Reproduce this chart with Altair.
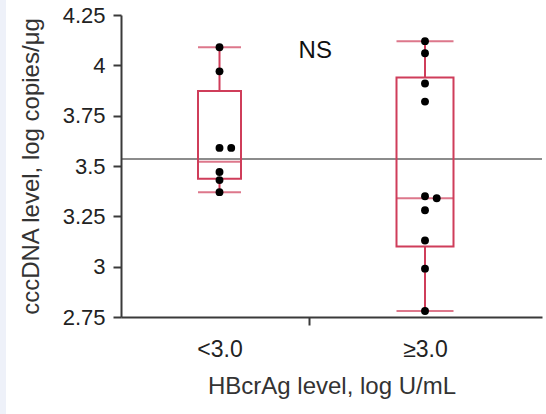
import altair as alt
import pandas as pd

# ---------------- data ----------------
groups = ["<3.0", "≥3.0"]
group_pos = [1, 2]
vals_low = [4.09, 3.97, 3.59, 3.59, 3.47, 3.43, 3.37]
vals_high = [4.12, 4.06, 3.91, 3.82, 3.35, 3.34, 3.28, 3.13, 2.99, 2.78]
box_min = [3.37, 2.78]
box_q1 = [3.437, 3.10]
box_med = [3.521, 3.34]
box_q3 = [3.872, 3.94]
box_max = [4.09, 4.12]
ref_value = 3.535
y_ticks = [2.75, 3, 3.25, 3.5, 3.75, 4, 4.25]
annotation = "NS"
y_title = "cccDNA level, log copies/μg"
x_title = "HBcrAg level, log U/mL"

# ---------------- layout constants ----------------
W, H = 421, 302
Y_DOMAIN = [2.75, 4.25]
X_DOMAIN = [0.545, 2.545]
PX_PER_Y = H / (Y_DOMAIN[1] - Y_DOMAIN[0])
PX_PER_X = W / (X_DOMAIN[1] - X_DOMAIN[0])
BOX_RED = "#cf3d5a"
AXIS = "#3a3a3a"
FONT = "Liberation Sans"

# box table
boxes = pd.DataFrame({
    "group": groups, "pos": group_pos,
    "lo": box_min, "q1": box_q1, "med": box_med, "q3": box_q3, "hi": box_max,
})

# points with a simple beeswarm de-overlap
rows = []
for g, p, vals in zip(groups, group_pos, [vals_low, vals_high]):
    placed = []
    for v in vals:
        k = 0
        while any(pk == k and abs(pv - v) * PX_PER_Y < 6 for pv, pk in placed):
            k += 1
        placed.append((v, k))
        rows.append({"group": g, "x": p + k * 12 / PX_PER_X, "value": v})
points = pd.DataFrame(rows)

xs = alt.Scale(domain=X_DOMAIN, nice=False, zero=False)
ys = alt.Scale(domain=Y_DOMAIN, nice=False, zero=False)

label_expr = " : ".join(
    [f"datum.value == {p} ? '{g}'" for g, p in zip(groups, group_pos)]
) + " : ''"
mid_tick = 1.437

x_axis = alt.Axis(
    values=[group_pos[0], mid_tick, group_pos[1]],
    labelExpr=label_expr,
    tickOpacity={"condition": {"test": f"datum.value == {group_pos[0]} || datum.value == {group_pos[1]}", "value": 0}, "value": 1},
    tickSize=8, tickWidth=2, tickColor=AXIS,
    labelPadding=13, labelFontSize=23, labelColor="#222",
    title=x_title, titleFontSize=24, titleFontWeight="normal", titleColor="#333",
    titlePadding=13, grid=False, domainColor=AXIS, domainWidth=2, zindex=1,
)
y_axis = alt.Axis(
    values=y_ticks, format=".3~g",
    tickSize=8, tickWidth=2, tickColor=AXIS,
    labelPadding=8, labelFontSize=22, labelColor="#222",
    title=y_title, titleFontSize=24, titleFontWeight="normal", titleColor="#333",
    titleX=-90, titleY=H / 2, titleAngle=-90, titleAlign="center", titleBaseline="middle",
    grid=False, domainColor=AXIS, domainWidth=2, zindex=1,
)

base_box = alt.Chart(boxes)

bg = alt.Chart(pd.DataFrame({"a": [0]})).mark_rect(color="white", clip=False).encode(
    x=alt.value(-115), x2=alt.value(W + 10), y=alt.value(-20), y2=alt.value(H + 110)
)

ref = alt.Chart(pd.DataFrame({"ref": [ref_value]})).mark_rule(
    color="#8c8c8c", strokeWidth=2
).encode(y=alt.Y("ref:Q", scale=ys, axis=y_axis))

whisk_up = base_box.mark_rule(color=BOX_RED, strokeWidth=2).encode(
    x=alt.X("pos:Q", scale=xs, axis=x_axis), y=alt.Y("q3:Q", scale=ys), y2="hi:Q"
)
whisk_dn = base_box.mark_rule(color=BOX_RED, strokeWidth=2).encode(
    x=alt.X("pos:Q", scale=xs), y=alt.Y("lo:Q", scale=ys), y2="q1:Q"
)
wsize = alt.condition(alt.datum.group == groups[0], alt.value(43), alt.value(57))
box = base_box.mark_bar(fillOpacity=0, stroke=BOX_RED, strokeWidth=2).encode(
    x=alt.X("pos:Q", scale=xs), y=alt.Y("q1:Q", scale=ys), y2="q3:Q", size=wsize
)
caps = []
for col in ["lo", "hi", "med"]:
    caps.append(
        base_box.mark_tick(orient="horizontal", color=BOX_RED, thickness=2).encode(
            x=alt.X("pos:Q", scale=xs), y=alt.Y(f"{col}:Q", scale=ys), size=wsize
        )
    )

dots = alt.Chart(points).mark_circle(color="black", opacity=1, size=62).encode(
    x=alt.X("x:Q", scale=xs), y=alt.Y("value:Q", scale=ys)
)

ns = alt.Chart(pd.DataFrame({"t": [annotation], "x": [1.466], "y": [4.07]})).mark_text(
    fontSize=24, color="#111", baseline="middle", align="center"
).encode(x=alt.X("x:Q", scale=xs), y=alt.Y("y:Q", scale=ys), text="t:N")

chart = alt.layer(bg, ref, whisk_up, whisk_dn, box, *caps, dots, ns).properties(
    width=W, height=H, background="#eef1f9",
    padding={"left": 121, "top": 15, "right": 4, "bottom": 97},
    autosize=alt.AutoSizeParams(type="none"),
).configure_view(
    stroke=AXIS, strokeWidth=2
).configure(font=FONT)

chart.save("out.html", embed_options={"renderer": "svg", "actions": False})
